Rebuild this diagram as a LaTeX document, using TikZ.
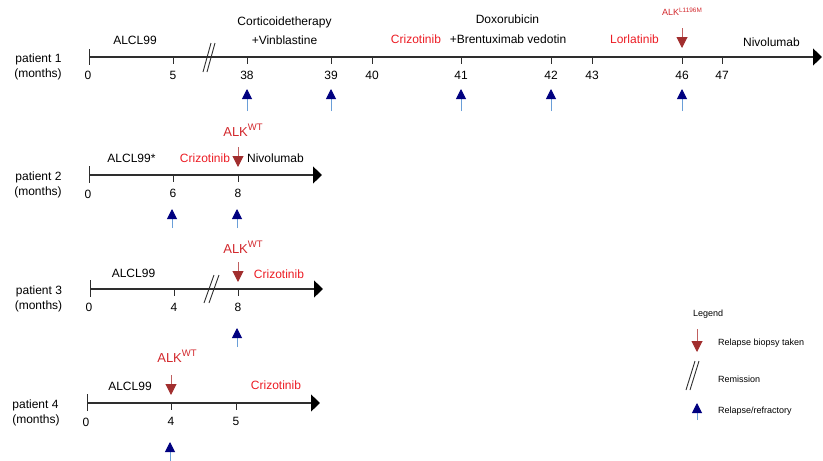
\documentclass[tikz,border=0pt]{standalone}
\usepackage{fontspec}
\setmainfont{Liberation Sans}
\usetikzlibrary{arrows.meta,calc}
\definecolor{axis}{HTML}{2E2E2E}
\definecolor{drugred}{HTML}{EC1C24}
\definecolor{alkred}{HTML}{D2282D}
\definecolor{biopsy}{HTML}{A12E2E}
\definecolor{biostem}{HTML}{C06060}
\definecolor{navyblue}{HTML}{000080}
\definecolor{stemblue}{HTML}{6A9FD8}
\tikzset{
  txt/.style={font=\fontsize{12}{14}\selectfont, anchor=base, inner sep=0pt},
  drug/.style={txt, text=drugred},
  alk/.style={anchor=base, inner sep=0pt, text=alkred},
  leg/.style={font=\fontsize{9}{11}\selectfont, anchor=base west, inner sep=0pt},
  timeline/.style={draw=axis, line width=1.2pt, -{Triangle[length=9pt,width=17pt,color=black]}},
  tickline/.style={draw=axis, line width=1pt},
  biopsyarrow/.style={draw=biostem, line width=1pt, -{Triangle[length=11pt,width=11pt,color=biopsy]}},
  relapse/.style={draw=stemblue, line width=1pt, -{Triangle[length=10pt,width=10pt,color=navyblue]}},
  brk/.style={draw=axis, line width=0.9pt},
}
\newcommand\mytick[4]{%
  \coordinate (#1) at (#2,#3);
  \draw[tickline] (#1) -- ++(0,7);
  \node[txt] (#1l) at ($(#1)+(0,22)$) {#4};}
\newcommand\alkwt{\fontsize{13}{15}\selectfont ALK\raisebox{6pt}{\fontsize{9.5}{10}\selectfont WT}}
\begin{document}
\begin{tikzpicture}[x=1pt,y=-1pt]
\useasboundingbox (0,0) rectangle (823,461);

% ---------------- patient 1 ----------------
\coordinate (p1s) at (89,57);
\coordinate (p1e) at (822,57);
\draw[timeline] (p1s) -- (p1e);
\draw[tickline] ($(p1s)+(0,-8)$) -- ($(p1s)+(0,8)$);
\node[txt] (p1t0l) at (88,79) {0};
\mytick{p1t5}{173}{57}{5}
\mytick{p1t38}{247}{57}{38}
\mytick{p1t39}{331}{57}{39}
\mytick{p1t40}{372}{57}{40}
\mytick{p1t41}{461}{57}{41}
\mytick{p1t42}{551}{57}{42}
\mytick{p1t43}{592}{57}{43}
\mytick{p1t46}{682}{57}{46}
\mytick{p1t47}{722}{57}{47}
\draw[brk] (203,72) -- (211,43);
\draw[brk] (207,72) -- (215,43);
\node[txt] (p1name) at (38.5,62) {patient 1};
\node[txt] (p1unit) at (38,77) {(months)};
\node[txt] (p1a) at (135,44) {ALCL99};
\node[txt] (p1b) at (284.5,25) {Corticoidetherapy};
\node[txt] (p1c) at (284.5,44) {+Vinblastine};
\node[drug] (p1d) at (416,43) {Crizotinib};
\node[txt] (p1e1) at (507.5,23) {Doxorubicin};
\node[txt] (p1e2) at (508,43) {+Brentuximab vedotin};
\node[drug] (p1f) at (634.5,43) {Lorlatinib};
\node[txt] (p1g) at (771.5,46) {Nivolumab};
\node[alk] (p1alk) at (682,15) {\fontsize{9}{10}\selectfont ALK\raisebox{3pt}{\fontsize{6.4}{7}\selectfont L1196M}};
\draw[biopsyarrow] ($(p1t46)+(0,-29)$) -- ($(p1t46)+(0,-9)$);
\foreach \t in {p1t38,p1t39,p1t41,p1t42,p1t46}
  \draw[relapse] ($(\t)+(0,54)$) -- ($(\t)+(0,32)$);

% ---------------- patient 2 ----------------
\coordinate (p2s) at (89,175);
\coordinate (p2e) at (322,175);
\draw[timeline] (p2s) -- (p2e);
\draw[tickline] ($(p2s)+(0,-9)$) -- ($(p2s)+(0,8)$);
\node[txt] (p2t0l) at (88,198) {0};
\mytick{p2t6}{173}{175}{6}
\mytick{p2t8}{238}{175}{8}
\node[txt] (p2name) at (38.5,180) {patient 2};
\node[txt] (p2unit) at (38,195) {(months)};
\node[txt] (p2a) at (131.5,162) {ALCL99*};
\node[drug] (p2b) at (205,162) {Crizotinib};
\node[txt] (p2c) at (275.5,162) {Nivolumab};
\node[alk] (p2alk) at (243,136) {\alkwt};
\draw[biopsyarrow] ($(p2t8)+(0,-28)$) -- ($(p2t8)+(0,-8)$);
\foreach \t in {p2t6,p2t8}
  \draw[relapse] ($(\t)+(-1,53)$) -- ($(\t)+(-1,34)$);

% ---------------- patient 3 ----------------
\coordinate (p3s) at (90,289);
\coordinate (p3e) at (323,289);
\draw[timeline] (p3s) -- (p3e);
\draw[tickline] ($(p3s)+(0,-9)$) -- ($(p3s)+(0,8)$);
\node[txt] (p3t0l) at (89,311) {0};
\mytick{p3t4}{174}{289}{4}
\mytick{p3t8}{238}{289}{8}
\draw[brk] (204,303) -- (214,275);
\draw[brk] (209,303) -- (219,275);
\node[txt] (p3name) at (39,294) {patient 3};
\node[txt] (p3unit) at (38.5,309) {(months)};
\node[txt] (p3a) at (133.5,277) {ALCL99};
\node[drug] (p3b) at (279,278) {Crizotinib};
\node[alk] (p3alk) at (243,253) {\alkwt};
\draw[biopsyarrow] ($(p3t8)+(0,-27)$) -- ($(p3t8)+(0,-7)$);
\draw[relapse] ($(p3t8)+(-1,58)$) -- ($(p3t8)+(-1,39)$);

% ---------------- patient 4 ----------------
\coordinate (p4s) at (87,403);
\coordinate (p4e) at (320,403);
\draw[timeline] (p4s) -- (p4e);
\draw[tickline] ($(p4s)+(0,-9)$) -- ($(p4s)+(0,8)$);
\node[txt] (p4t0l) at (86,426) {0};
\mytick{p4t4}{171}{403}{4}
\mytick{p4t5}{236}{403}{5}
\node[txt] (p4name) at (35.5,408) {patient 4};
\node[txt] (p4unit) at (36,423) {(months)};
\node[txt] (p4a) at (130,390) {ALCL99};
\node[drug] (p4b) at (276,389) {Crizotinib};
\node[alk] (p4alk) at (177,362) {\alkwt};
\draw[biopsyarrow] ($(p4t4)+(0,-28)$) -- ($(p4t4)+(0,-8)$);
\draw[relapse] ($(p4t4)+(-1,58)$) -- ($(p4t4)+(-1,39)$);

% ---------------- legend ----------------
\node[leg] (legtitle) at (693,316) {Legend};
\coordinate (lg1) at (697,329);
\coordinate (lg1b) at (697,352);
\draw[biopsyarrow] (lg1) -- (lg1b);
\node[leg] (leg1) at (718,345) {Relapse biopsy taken};
\draw[brk] (686,390) -- (695,361);
\draw[brk] (690,390) -- (699,361);
\node[leg] (leg2) at (718,382) {Remission};
\coordinate (lg3) at (697,420);
\coordinate (lg3b) at (697,403);
\draw[relapse] (lg3) -- (lg3b);
\node[leg] (leg3) at (718,413) {Relapse/refractory};
\end{tikzpicture}
\end{document}
